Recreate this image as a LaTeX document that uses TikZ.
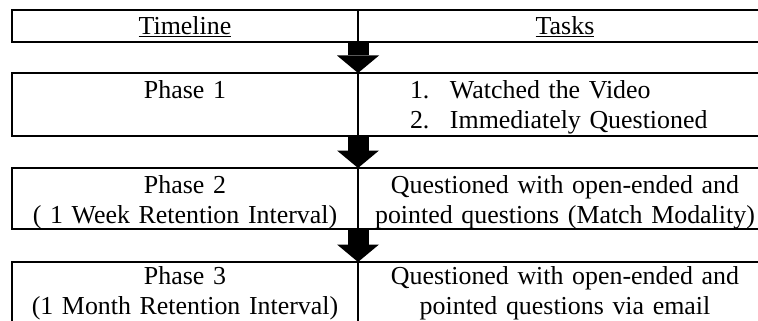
\documentclass[tikz,border=0pt]{standalone}
\usepackage{fontspec}
\setmainfont{Liberation Serif}
\usepackage{tikz}
\usetikzlibrary{arrows.meta, positioning}

\tikzset{
    cell/.style={draw, line width=2.2pt, outer sep=0pt, inner sep=0pt, minimum height=63pt, text height=20pt, text depth=31pt, font=\fontsize{25.9}{30}\selectfont},
    leftcell/.style={cell, align=center, text width=346pt, minimum width=346pt},
    rightcell/.style={cell, align=center, text width=414pt, minimum width=414pt},
    headcell/.style={minimum height=32pt, text depth=2pt},
    flow/.style={line width=21pt, -{Triangle[width=42pt, length=17.5pt, line width=0pt]}}
}
\newcommand{\taskitem}[2]{\hspace*{52pt}\makebox[40pt][l]{#1}#2}

\begin{document}
\begin{tikzpicture}[x=1pt, y=-1pt]
    \path[use as bounding box, clip] (0,0) rectangle (758,321);
    \node[leftcell, headcell, anchor=north west] (hdrL) at (12,10) {\underline{Timeline}};
    \node[rightcell, headcell, right=0pt of hdrL] (hdrR) {\underline{Tasks}};
    \node[leftcell, below=31pt of hdrL] (p1L) {Phase 1};
    \node[rightcell, align=left, right=0pt of p1L] (p1R) {\taskitem{1.}{Watched the Video}\\\taskitem{2.}{Immediately Questioned}};
    \node[leftcell, minimum height=61pt, below=32pt of p1L] (p2L) {Phase 2\\( 1 Week Retention Interval)};
    \node[rightcell, minimum height=61pt, right=0pt of p2L] (p2R) {Questioned with open-ended and\\pointed questions (Match Modality)};
    \node[leftcell, text depth=39pt, below=33pt of p2L] (p3L) {Phase 3\\(1 Month Retention Interval)};
    \node[rightcell, text depth=39pt, right=0pt of p3L] (p3R) {Questioned with open-ended and\\pointed questions via email};
    \draw[flow] (hdrL.south east) -- (p1L.north east);
    \draw[flow] (p1L.south east) -- (p2L.north east);
    \draw[flow] (p2L.south east) -- (p3L.north east);
\end{tikzpicture}
\end{document}
